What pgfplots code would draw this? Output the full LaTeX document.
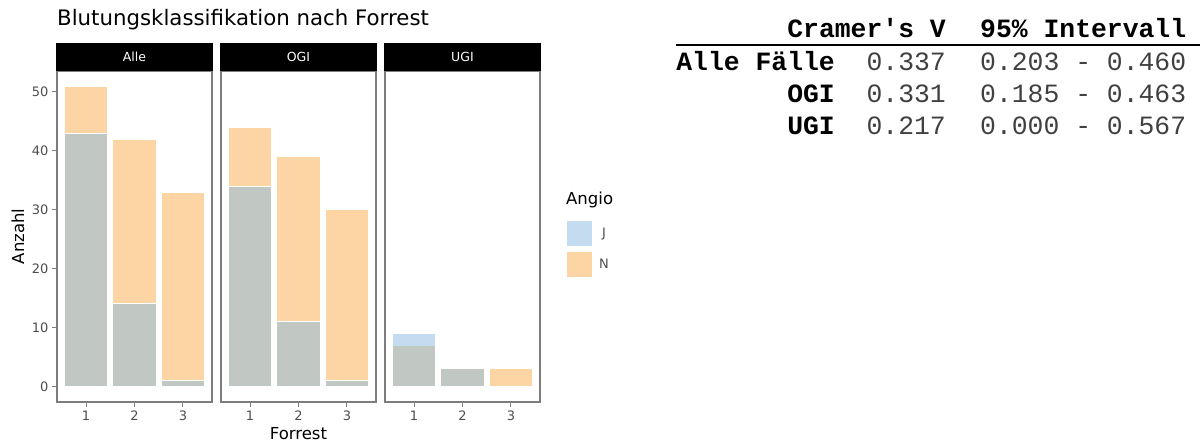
\documentclass[border=0pt]{standalone}
\usepackage{pgfplots}
\pgfplotsset{compat=1.18}
\usepackage{fontspec}
\setmainfont{DejaVu Sans}
\newfontfamily\monofont[Ligatures=TeXOff]{Liberation Mono}
\definecolor{jcol}{RGB}{135,185,225}
\definecolor{ncol}{RGB}{251,171,75}
\definecolor{framecol}{RGB}{125,125,125}
\definecolor{tickcol}{RGB}{77,77,77}

\pgfplotsset{
  panel/.style={
    width=155pt, height=331pt, scale only axis,
    anchor=south west,
    xmin=0.4, xmax=3.6, ymin=-2.65, ymax=53.55,
    xtick={1,2,3}, ytick={0,10,20,30,40,50},
    tick align=outside, tick pos=left,
    major tick length=5pt,
    every tick/.style={framecol, line width=1pt},
    axis line style={framecol, line width=1.3pt},
    /pgf/number format/assume math mode=true,
    ticklabel style={font=\fontsize{13}{15}\selectfont, text=tickcol},
    ybar, bar width=0.9,
    every axis title/.style={at={(0.5,1)}, anchor=south, fill=black, text=white,
      minimum width=156.3pt, minimum height=28pt, inner sep=0pt,
      font=\fontsize{12.5}{14}\selectfont},
  },
  nbar/.style={fill=ncol, fill opacity=0.5, draw=white, line width=1pt, bar shift=0pt},
  jbar/.style={fill=jcol, fill opacity=0.5, draw=white, line width=1pt, bar shift=0pt},
}

\begin{document}
\begin{tikzpicture}[x=1pt,y=1pt]
\path[use as bounding box] (0,0) rectangle (1200,441);

\node[anchor=west, inner sep=0pt, font=\fontsize{21.3}{23}\selectfont] at (57,421) {Blutungsklassifikation nach Forrest};

% Alle
\begin{axis}[panel, at={(57pt,39pt)}, title={Alle},
  ylabel={Anzahl},
  ylabel style={at={(axis description cs:-0.252,0.5)}, anchor=center, rotate=0, font=\fontsize{16.5}{18}\selectfont}]
\addplot[nbar] coordinates {(1,51) (2,42) (3,33)};
\addplot[jbar] coordinates {(1,43) (2,14) (3,1)};
\end{axis}

% OGI
\begin{axis}[panel, at={(221pt,39pt)}, title={OGI}, ytick=\empty,
  xlabel={Forrest},
  xlabel style={at={(axis description cs:0.5,-0.094)}, anchor=center, font=\fontsize{16.5}{18}\selectfont}]
\addplot[nbar] coordinates {(1,44) (2,39) (3,30)};
\addplot[jbar] coordinates {(1,34) (2,11) (3,1)};
\end{axis}

% UGI
\begin{axis}[panel, at={(385pt,39pt)}, title={UGI}, ytick=\empty,
  legend style={at={(rel axis cs:1.174,0.547)}, anchor=north west, draw=none, fill=none,
    inner sep=0pt, row sep=6pt, font=\fontsize{13}{15}\selectfont, text=tickcol,
    /tikz/every odd column/.append style={column sep=5pt}},
  legend image code/.code={\fill[draw=none] (0pt,-12.5pt) rectangle (25pt,12.5pt);}]
\addplot[nbar, forget plot] coordinates {(1,7) (2,3) (3,3)};
\addplot[jbar, forget plot] coordinates {(1,9) (2,3) (3,0)};
\addlegendimage{fill=jcol, fill opacity=0.5}
\addlegendentry{J}
\addlegendimage{fill=ncol, fill opacity=0.5}
\addlegendentry{N}
\end{axis}

\node[anchor=west, inner sep=0pt, font=\fontsize{16.5}{18}\selectfont] at (566,241) {Angio};

% Table
\begin{scope}[every node/.style={inner sep=0pt, font=\monofont\fontsize{26.4}{30}\selectfont}]
\node[anchor=base east] at (946,403.5) {\bfseries Cramer's V};
\node[anchor=base west] at (980,403.5) {\bfseries 95\% Intervall};
\draw[line width=2pt] (676,396) -- (1200,396);
\node[anchor=base east] at (835,370) {\bfseries Alle Fälle};
\node[anchor=base east, text=black!75] at (946,370) {0.337};
\node[anchor=base west, text=black!75] at (980,370) {0.203 - 0.460};
\node[anchor=base east] at (835,338) {\bfseries OGI};
\node[anchor=base east, text=black!75] at (946,338) {0.331};
\node[anchor=base west, text=black!75] at (980,338) {0.185 - 0.463};
\node[anchor=base east] at (835,306) {\bfseries UGI};
\node[anchor=base east, text=black!75] at (946,306) {0.217};
\node[anchor=base west, text=black!75] at (980,306) {0.000 - 0.567};
\end{scope}
\end{tikzpicture}
\end{document}
